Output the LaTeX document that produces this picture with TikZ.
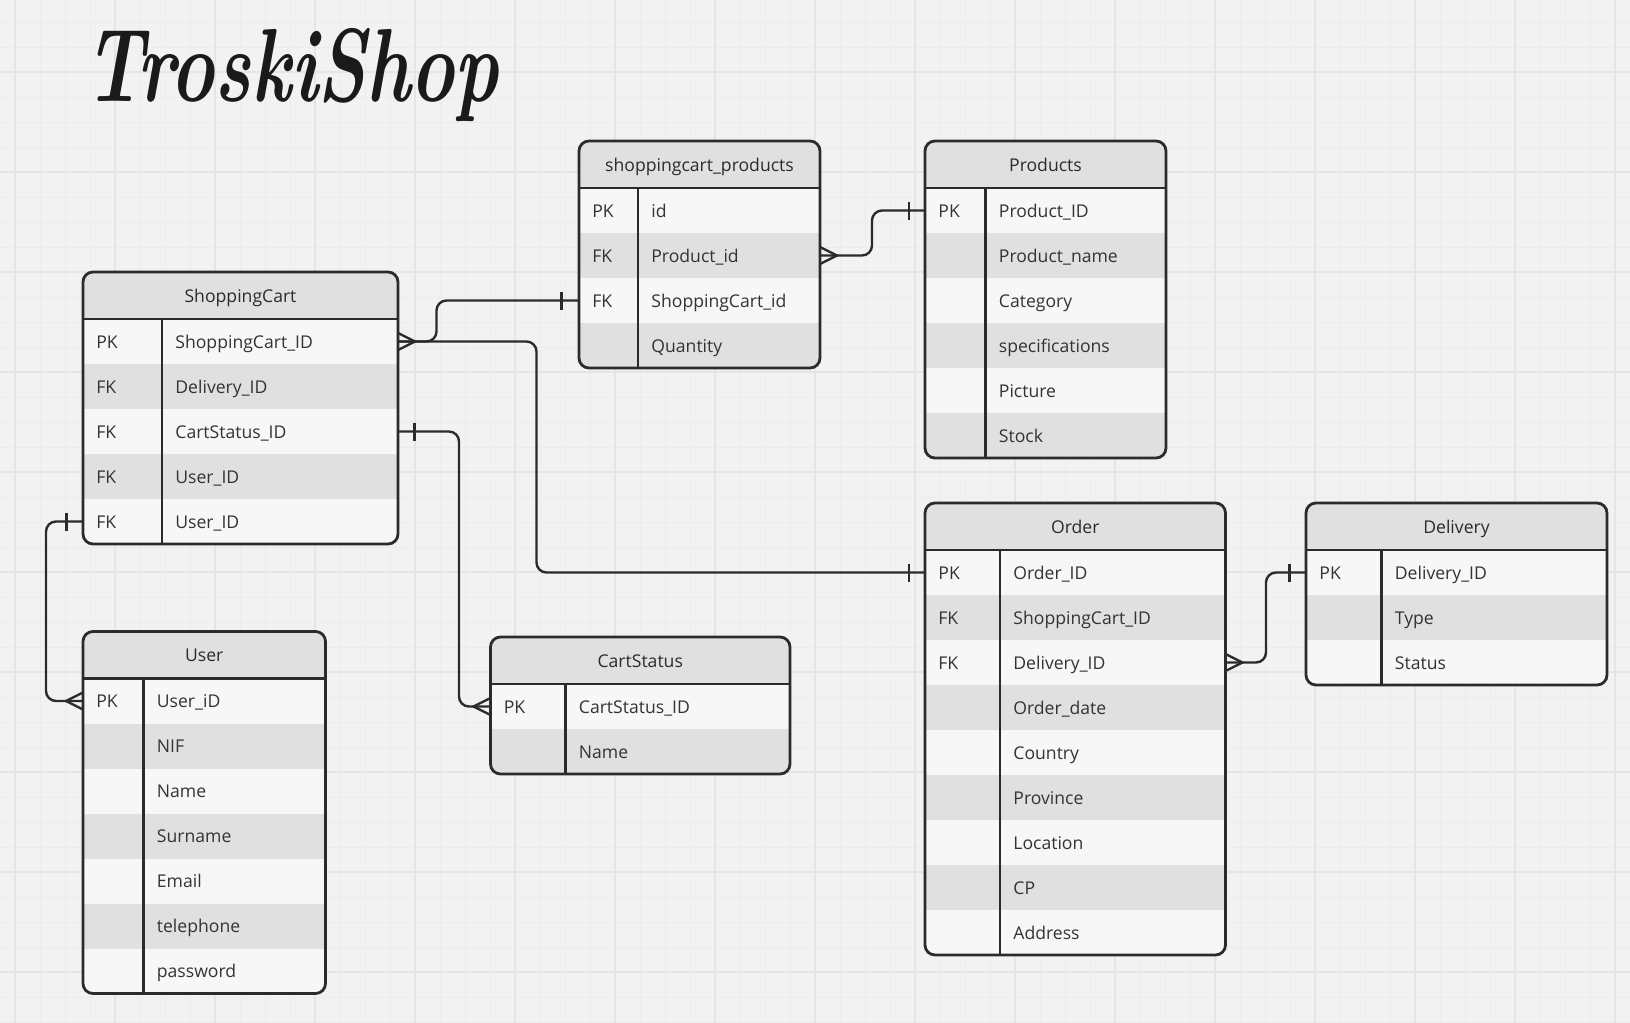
\documentclass[tikz,border=0pt]{standalone}
\usepackage{fontspec}
\newfontfamily\osans{Open Sans}
\usetikzlibrary{calc}
\definecolor{bg}{HTML}{F2F2F2}
\definecolor{gridminor}{HTML}{ECECEC}
\definecolor{gridmajor}{HTML}{E5E5E5}
\definecolor{hdr}{HTML}{E0E0E0}
\definecolor{rowlight}{HTML}{F7F7F7}
\definecolor{rowdark}{HTML}{E0E0E0}
\definecolor{ink}{HTML}{2B2B2B}
\definecolor{txt}{HTML}{333333}
\definecolor{titleink}{HTML}{1A1A1A}
\tikzset{
  gminor/.style={draw=gridminor, line width=0.5pt},
  gmajor/.style={draw=gridmajor, line width=0.6pt},
  border/.style={draw=ink, line width=1.4pt, rounded corners=5pt},
  innerline/.style={draw=ink, line width=1.2pt},
  rowbox/.style={inner sep=0pt, outer sep=0pt, minimum height=22.5pt, draw=none},
  keytxt/.style={font={\osans\fontsize{8.8pt}{11pt}\selectfont}, text=txt, inner sep=0pt},
  hdrtxt/.style={font={\osans\fontsize{8.8pt}{11pt}\selectfont}, text=ink, inner sep=0pt},
  conn/.style={draw=ink, line width=1.2pt, rounded corners=5pt},
  crowline/.style={draw=ink, line width=1.2pt},
  titletxt/.style={font={\rmfamily\bfseries\itshape\fontsize{52pt}{60pt}\selectfont}, text=titleink, inner sep=0pt},
}
% #1 name #2 left #3 right #4 divider #5 top #6 nrows #7 title #8 rows
\newcommand{\ertable}[8]{%
  \pgfmathsetmacro\tb{#5+47+45*#6}%
  \pgfmathsetmacro\hb{#5+47}%
  \pgfmathsetmacro\tw{(#3-#2)/2}%
  \begin{scope}
    \clip[rounded corners=5pt] (#2,#5) rectangle (#3,\tb);
    \fill[hdr] (#2,#5) rectangle (#3,\hb);
    \foreach \k/\f [count=\i] in {#8} {
      \pgfmathsetmacro\ya{\hb+45*(\i-1)}
      \ifodd\i \fill[rowlight] (#2,\ya) rectangle (#3,\ya+45); \else \fill[rowdark] (#2,\ya) rectangle (#3,\ya+45); \fi
    }
  \end{scope}
  \foreach \k/\f [count=\i] in {#8} {
    \pgfmathsetmacro\ya{\hb+45*(\i-1)}
    \node[rowbox, minimum width=\tw pt, anchor=north west] (#1-r\i) at (#2,\ya) {};
    \node[keytxt, anchor=base west] (#1-k\i) at (#2+13,\ya+29) {\k};
    \node[keytxt, anchor=base west] (#1-f\i) at (#4+13,\ya+29) {\f};
  }
  \draw[innerline] (#2,\hb) -- (#3,\hb);
  \draw[innerline] (#4,\hb) -- (#4,\tb);
  \draw[border] (#2,#5) rectangle (#3,\tb);
  \node[hdrtxt, anchor=base] (#1-h) at ({(#2+#3)/2},{#5+30}) {#7};
}
\newcommand{\crowat}[2]{\draw[crowline] ($(#1)+(0,-8.5)$) -- ($(#1)+(#2,0)$) -- ($(#1)+(0,8.5)$);}
\newcommand{\barat}[2]{\draw[crowline] ($(#1)+(#2,-9)$) -- ($(#1)+(#2,9)$);}
\begin{document}
\begin{tikzpicture}[x=0.5pt,y=-0.5pt]
\useasboundingbox (0,0) rectangle (1630,1023);
\fill[bg] (0,0) rectangle (1630,1023);
\foreach \gx in {15,40,...,1630} \draw[gminor] (\gx,0) -- (\gx,1023);
\foreach \gy in {22,47,...,1023} \draw[gminor] (0,\gy) -- (1630,\gy);
\foreach \gx in {15,115,...,1630} \draw[gmajor] (\gx,0) -- (\gx,1023);
\foreach \gy in {72,172,...,1023} \draw[gmajor] (0,\gy) -- (1630,\gy);

\node[titletxt, anchor=base west, xscale=0.72] (title) at (84,101) {TroskiShop};

\ertable{scp}{579}{820}{638}{141}{4}{shoppingcart\_products}{PK/id, FK/Product\_id, FK/ShoppingCart\_id, /Quantity}
\ertable{prod}{925}{1166}{985.5}{141}{6}{Products}{PK/Product\_ID, /Product\_name, /Category, /specifications, /Picture, /Stock}
\ertable{sc}{83}{398}{162}{272}{5}{ShoppingCart}{PK/ShoppingCart\_ID, FK/Delivery\_ID, FK/CartStatus\_ID, FK/User\_ID, FK/User\_ID}
\ertable{usr}{83}{325.5}{143.5}{631.5}{7}{User}{PK/User\_iD, /NIF, /Name, /Surname, /Email, /telephone, /password}
\ertable{cs}{490.5}{790}{565.5}{637}{2}{CartStatus}{PK/CartStatus\_ID, /Name}
\ertable{ord}{925}{1225.5}{1000}{503}{9}{Order}{PK/Order\_ID, FK/ShoppingCart\_ID, FK/Delivery\_ID, /Order\_date, /Country, /Province, /Location, /CP, /Address}
\ertable{del}{1306}{1607}{1381.5}{503}{3}{Delivery}{PK/Delivery\_ID, /Type, /Status}

% ShoppingCart -> shoppingcart_products
\draw[conn] (sc-r1.east) -- ++(38.5,0) |- (scp-r3.west);
\crowat{sc-r1.east}{17}
\barat{scp-r3.west}{-17.5}
% shoppingcart_products -> Products
\draw[conn] (scp-r2.east) -- ++(52,0) |- (prod-r1.west);
\crowat{scp-r2.east}{17}
\barat{prod-r1.west}{-16}
% ShoppingCart -> Order
\draw[conn] (sc-r1.east) -- ++(138.5,0) |- (ord-r1.west);
\barat{ord-r1.west}{-16}
% ShoppingCart -> CartStatus
\draw[conn] (sc-r3.east) -- ++(61,0) |- (cs-r1.west);
\barat{sc-r3.east}{16.5}
\crowat{cs-r1.west}{-17}
% ShoppingCart -> User
\draw[conn] (sc-r5.west) -- ++(-37,0) |- (usr-r1.west);
\barat{sc-r5.west}{-16.5}
\crowat{usr-r1.west}{-17}
% Order -> Delivery
\draw[conn] (ord-r3.east) -- ++(40.5,0) |- (del-r1.west);
\crowat{ord-r3.east}{17}
\barat{del-r1.west}{-16.5}
\end{tikzpicture}
\end{document}
